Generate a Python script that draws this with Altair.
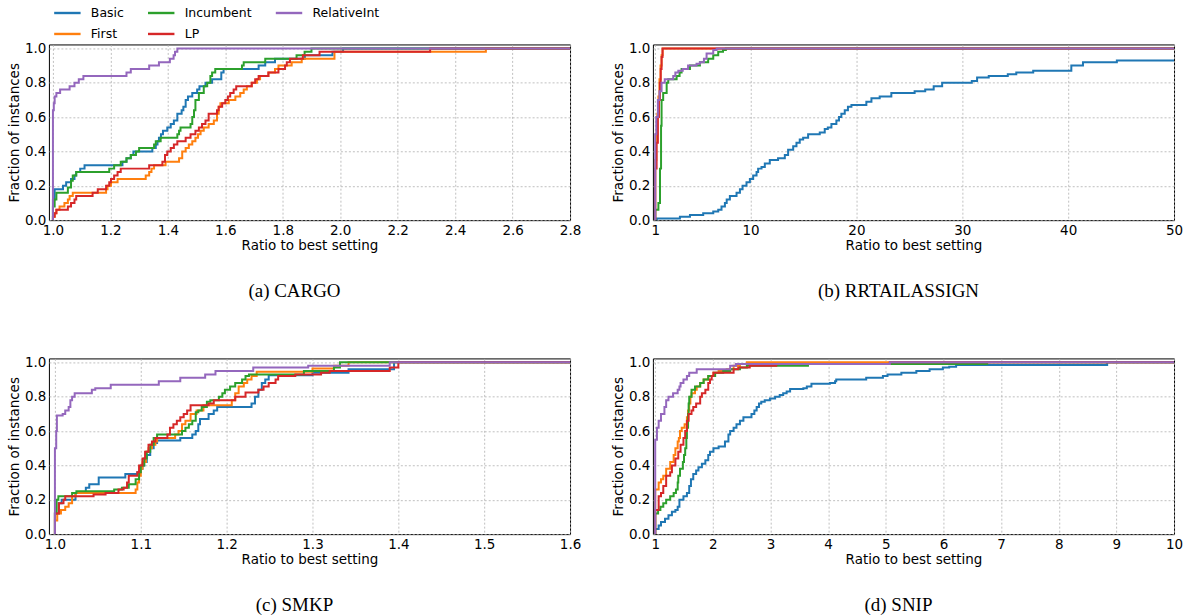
import altair as alt
import pandas as pd

# ---------------- data ----------------
SERIES = ["Basic", "First", "Incumbent", "LP", "RelativeInt"]
LEGEND_ORDER = ["Basic", "Incumbent", "RelativeInt", "First", "LP"]
LEGEND_COLORS = ["#1f77b4", "#2ca02c", "#9467bd", "#ff7f0e", "#d62728"]

# (a) Cargo
CARGO_BASIC = [(1.0, 0), (1.0, 0.12), (1.006, 0.18), (1.035, 0.20), (1.046, 0.22), (1.063, 0.24), (1.075, 0.26),
               (1.081, 0.28), (1.095, 0.30), (1.110, 0.32), (1.242, 0.34), (1.256, 0.36), (1.271, 0.38), (1.280, 0.40),
               (1.346, 0.42), (1.358, 0.44), (1.364, 0.46), (1.369, 0.48), (1.376, 0.50), (1.383, 0.52), (1.398, 0.54),
               (1.410, 0.56), (1.421, 0.58), (1.433, 0.62), (1.448, 0.64), (1.454, 0.66), (1.462, 0.70), (1.470, 0.72),
               (1.485, 0.74), (1.502, 0.76), (1.510, 0.78), (1.531, 0.80), (1.554, 0.82), (1.586, 0.86), (1.594, 0.88),
               (1.716, 0.90), (1.739, 0.92), (1.773, 0.94), (1.877, 0.96), (1.973, 0.98), (2.010, 1.0), (2.8, 1.0)]
CARGO_FIRST = [(1.0, 0), (1.0, 0.02), (1.006, 0.04), (1.012, 0.06), (1.023, 0.08), (1.04, 0.10), (1.052, 0.12),
               (1.058, 0.14), (1.069, 0.16), (1.185, 0.18), (1.19, 0.20), (1.202, 0.22), (1.225, 0.24), (1.323, 0.26),
               (1.335, 0.28), (1.343, 0.30), (1.352, 0.32), (1.392, 0.34), (1.439, 0.36), (1.45, 0.40), (1.462, 0.42),
               (1.473, 0.44), (1.485, 0.46), (1.496, 0.48), (1.505, 0.50), (1.514, 0.52), (1.525, 0.54), (1.542, 0.56),
               (1.56, 0.58), (1.571, 0.62), (1.577, 0.66), (1.583, 0.68), (1.612, 0.70), (1.635, 0.72), (1.652, 0.74),
               (1.664, 0.76), (1.675, 0.78), (1.692, 0.80), (1.71, 0.82), (1.721, 0.84), (1.75, 0.86), (1.773, 0.88),
               (1.785, 0.90), (1.831, 0.92), (1.866, 0.94), (1.98, 0.98), (2.507, 1.0), (2.8, 1.0)]
CARGO_INCUMBENT = [(1.0, 0), (1.0, 0.08), (1.006, 0.12), (1.012, 0.16), (1.052, 0.19), (1.063, 0.23), (1.069, 0.26),
                   (1.081, 0.28), (1.196, 0.30), (1.213, 0.32), (1.236, 0.34), (1.256, 0.36), (1.271, 0.38),
                   (1.289, 0.40), (1.30, 0.42), (1.352, 0.44), (1.358, 0.46), (1.375, 0.48), (1.433, 0.50),
                   (1.439, 0.52), (1.444, 0.54), (1.479, 0.56), (1.485, 0.60), (1.491, 0.64), (1.496, 0.70),
                   (1.508, 0.74), (1.525, 0.78), (1.537, 0.80), (1.548, 0.84), (1.554, 0.86), (1.565, 0.88),
                   (1.658, 0.90), (1.664, 0.92), (1.739, 0.94), (1.848, 0.96), (1.876, 0.98), (1.90, 1.0), (2.8, 1.0)]
CARGO_LP = [(1.0, 0), (1.0, 0.02), (1.006, 0.04), (1.012, 0.06), (1.052, 0.08), (1.063, 0.10), (1.075, 0.12),
            (1.081, 0.14), (1.138, 0.16), (1.156, 0.18), (1.185, 0.20), (1.196, 0.22), (1.202, 0.24), (1.213, 0.26),
            (1.225, 0.28), (1.236, 0.30), (1.335, 0.32), (1.381, 0.34), (1.39, 0.38), (1.398, 0.40), (1.41, 0.42),
            (1.421, 0.44), (1.433, 0.46), (1.462, 0.48), (1.479, 0.50), (1.496, 0.52), (1.508, 0.54), (1.519, 0.56),
            (1.531, 0.58), (1.542, 0.62), (1.571, 0.64), (1.577, 0.66), (1.589, 0.68), (1.60, 0.70), (1.609, 0.72),
            (1.617, 0.74), (1.629, 0.76), (1.638, 0.78), (1.692, 0.80), (1.704, 0.82), (1.716, 0.84), (1.75, 0.86),
            (1.785, 0.88), (1.808, 0.90), (1.814, 0.92), (1.825, 0.94), (1.87, 0.96), (1.928, 0.98), (2.313, 1.0),
            (2.8, 1.0)]
CARGO_RELINT = [(1.0, 0), (1.0, 0.64), (1.003, 0.68), (1.006, 0.72), (1.012, 0.74), (1.025, 0.76), (1.058, 0.78),
                (1.075, 0.80), (1.09, 0.82), (1.106, 0.84), (1.256, 0.86), (1.271, 0.88), (1.335, 0.90), (1.369, 0.92),
                (1.407, 0.94), (1.42, 0.96), (1.425, 0.98), (1.433, 1.0), (2.8, 1.0)]

# (b) RRTailAssign
RRT_BASIC = [(1.0, 0), (1.15, 0.01), (3.33, 0.02), (4.28, 0.03), (5.53, 0.04), (6.48, 0.05), (6.95, 0.06),
             (7.26, 0.08), (7.58, 0.10), (7.75, 0.12), (8.05, 0.14), (8.68, 0.16), (9.0, 0.18), (9.25, 0.20),
             (9.62, 0.22), (9.94, 0.24), (10.25, 0.26), (10.57, 0.28), (10.72, 0.30), (11.04, 0.31), (11.35, 0.33),
             (11.82, 0.35), (12.6, 0.36), (13.24, 0.38), (13.55, 0.41), (14.03, 0.43), (14.34, 0.45), (14.65, 0.47),
             (14.97, 0.48), (15.44, 0.50), (16.54, 0.51), (17.01, 0.53), (17.3, 0.54), (17.64, 0.56), (18.11, 0.58),
             (18.36, 0.60), (18.58, 0.62), (18.9, 0.64), (19.2, 0.66), (19.53, 0.67), (20.94, 0.69), (21.42, 0.71),
             (22.2, 0.72), (23.3, 0.74), (25.5, 0.75), (26.5, 0.76), (27.3, 0.78), (28.1, 0.80), (30.9, 0.81),
             (31.4, 0.83), (32.5, 0.84), (34.3, 0.85), (35.1, 0.86), (36.7, 0.87), (40.3, 0.90), (41.4, 0.92),
             (44.6, 0.93), (50.0, 0.93)]
RRT_FIRST = [(1.0, 0), (1.0, 0.35), (1.1, 0.5), (1.2, 0.62), (1.3, 0.72), (1.4, 0.82), (1.5, 0.9), (1.6, 0.96),
             (1.7, 1.0), (50.0, 1.0)]
RRT_INCUMBENT = [(1.0, 0), (1.0, 0.06), (1.3, 0.10), (1.45, 0.3), (1.55, 0.55), (1.6, 0.70), (1.75, 0.74),
                 (2.08, 0.80), (2.23, 0.82), (3.02, 0.84), (3.3, 0.86), (3.49, 0.88), (4.28, 0.90), (5.22, 0.92),
                 (6.0, 0.94), (6.48, 0.96), (6.95, 0.98), (7.4, 0.99), (7.67, 1.0), (50.0, 1.0)]
RRT_LP = [(1.0, 0), (1.0, 0.30), (1.13, 0.45), (1.25, 0.6), (1.35, 0.7), (1.44, 0.8), (1.52, 0.88), (1.6, 0.95),
          (1.69, 1.0), (50.0, 1.0)]
RRT_RELINT = [(1.0, 0), (1.0, 0.5), (1.1, 0.6), (1.25, 0.7), (1.4, 0.75), (1.6, 0.80), (1.9, 0.82), (2.7, 0.84),
              (2.9, 0.86), (3.18, 0.87), (3.6, 0.88), (4.1, 0.90), (4.9, 0.91), (5.22, 0.92), (5.6, 0.94),
              (5.85, 0.97), (6.48, 0.99), (6.8, 1.0), (50.0, 1.0)]

# (c) Smkp
SMKP_BASIC = [(1.0, 0), (1.0, 0.12), (1.0046, 0.18), (1.0078, 0.20), (1.024, 0.24), (1.036, 0.27), (1.04, 0.29),
              (1.051, 0.33), (1.082, 0.35), (1.096, 0.36), (1.1, 0.38), (1.102, 0.40), (1.104, 0.42), (1.107, 0.46),
              (1.111, 0.50), (1.115, 0.53), (1.119, 0.545), (1.146, 0.56), (1.16, 0.58), (1.164, 0.60),
              (1.167, 0.64), (1.169, 0.67), (1.179, 0.70), (1.185, 0.72), (1.189, 0.74), (1.229, 0.76),
              (1.233, 0.80), (1.237, 0.84), (1.241, 0.88), (1.245, 0.90), (1.249, 0.925), (1.30, 0.94),
              (1.342, 0.96), (1.395, 1.0), (1.6, 1.0)]
SMKP_FIRST = [(1.0, 0), (1.0, 0.08), (1.0027, 0.12), (1.007, 0.14), (1.012, 0.16), (1.016, 0.18), (1.02, 0.22),
              (1.024, 0.24), (1.094, 0.26), (1.096, 0.30), (1.098, 0.34), (1.1, 0.38), (1.102, 0.42), (1.106, 0.48),
              (1.109, 0.50), (1.113, 0.52), (1.117, 0.54), (1.119, 0.56), (1.14, 0.58), (1.144, 0.60),
              (1.148, 0.64), (1.152, 0.66), (1.158, 0.70), (1.165, 0.72), (1.173, 0.75), (1.206, 0.78),
              (1.21, 0.82), (1.214, 0.86), (1.22, 0.88), (1.224, 0.90), (1.229, 0.92), (1.235, 0.945),
              (1.30, 0.965), (1.325, 0.98), (1.342, 1.0), (1.6, 1.0)]
SMKP_INCUMBENT = [(1.0, 0), (1.0, 0.12), (1.002, 0.20), (1.004, 0.22), (1.02, 0.24), (1.025, 0.25), (1.069, 0.26),
                  (1.078, 0.27), (1.086, 0.29), (1.094, 0.32), (1.098, 0.36), (1.1, 0.40), (1.104, 0.44),
                  (1.107, 0.48), (1.111, 0.52), (1.115, 0.56), (1.119, 0.58), (1.148, 0.60), (1.152, 0.62),
                  (1.156, 0.64), (1.16, 0.66), (1.164, 0.71), (1.167, 0.72), (1.171, 0.74), (1.177, 0.77),
                  (1.181, 0.78), (1.191, 0.80), (1.195, 0.82), (1.198, 0.84), (1.204, 0.86), (1.21, 0.88),
                  (1.218, 0.90), (1.222, 0.92), (1.226, 0.93), (1.29, 0.95), (1.325, 0.97), (1.332, 1.0), (1.6, 1.0)]
SMKP_LP = [(1.0, 0), (1.0, 0.12), (1.0046, 0.18), (1.01, 0.20), (1.012, 0.22), (1.045, 0.23), (1.059, 0.24),
           (1.074, 0.26), (1.08, 0.27), (1.084, 0.30), (1.086, 0.34), (1.096, 0.36), (1.098, 0.40), (1.102, 0.44),
           (1.105, 0.48), (1.109, 0.52), (1.113, 0.54), (1.117, 0.56), (1.131, 0.58), (1.134, 0.62), (1.138, 0.64),
           (1.142, 0.66), (1.146, 0.68), (1.15, 0.70), (1.154, 0.72), (1.158, 0.75), (1.179, 0.76), (1.185, 0.78),
           (1.21, 0.80), (1.222, 0.825), (1.237, 0.84), (1.243, 0.86), (1.249, 0.88), (1.257, 0.90), (1.26, 0.92),
           (1.28, 0.93), (1.31, 0.94), (1.32, 0.95), (1.39, 0.97), (1.40, 1.0), (1.6, 1.0)]
SMKP_RELINT = [(1.0, 0), (1.0, 0.5), (1.0015, 0.6), (1.0023, 0.69), (1.009, 0.70), (1.012, 0.72), (1.016, 0.74),
               (1.018, 0.78), (1.02, 0.80), (1.023, 0.82), (1.043, 0.84), (1.047, 0.85), (1.065, 0.87),
               (1.121, 0.89), (1.146, 0.91), (1.175, 0.93), (1.187, 0.95), (1.231, 0.97), (1.295, 0.98),
               (1.39, 1.0), (1.6, 1.0)]

# (d) Snip
SNIP_BASIC = [(1.0, 0), (1.0, 0.03), (1.06, 0.05), (1.1, 0.07), (1.17, 0.09), (1.23, 0.11), (1.29, 0.13),
              (1.35, 0.14), (1.39, 0.16), (1.42, 0.20), (1.49, 0.22), (1.55, 0.24), (1.59, 0.28), (1.62, 0.32),
              (1.66, 0.35), (1.71, 0.37), (1.75, 0.39), (1.81, 0.41), (1.87, 0.43), (1.92, 0.46), (1.95, 0.48),
              (2.01, 0.50), (2.1, 0.51), (2.21, 0.54), (2.27, 0.58), (2.3, 0.60), (2.36, 0.62), (2.41, 0.64),
              (2.47, 0.66), (2.53, 0.68), (2.67, 0.70), (2.72, 0.72), (2.76, 0.74), (2.8, 0.76), (2.84, 0.77),
              (2.9, 0.78), (2.99, 0.79), (3.08, 0.80), (3.16, 0.81), (3.22, 0.82), (3.28, 0.83), (3.34, 0.845),
              (3.57, 0.85), (3.63, 0.86), (3.71, 0.875), (4.03, 0.88), (4.12, 0.89), (4.14, 0.90), (4.66, 0.91),
              (4.95, 0.92), (5.03, 0.93), (5.27, 0.94), (5.53, 0.95), (5.76, 0.96), (5.99, 0.97), (6.1, 0.975),
              (6.22, 0.985), (8.84, 1.0), (10.0, 1.0)]
SNIP_FIRST = [(1.0, 0), (1.0, 0.26), (1.06, 0.30), (1.1, 0.32), (1.14, 0.34), (1.19, 0.38), (1.26, 0.42),
              (1.32, 0.46), (1.35, 0.50), (1.39, 0.54), (1.41, 0.56), (1.43, 0.60), (1.46, 0.62), (1.51, 0.64),
              (1.55, 0.68), (1.57, 0.72), (1.59, 0.76), (1.61, 0.80), (1.63, 0.82), (1.69, 0.84), (1.72, 0.86),
              (1.78, 0.88), (1.84, 0.90), (1.92, 0.92), (2.01, 0.94), (2.1, 0.95), (2.24, 0.96), (2.36, 0.98),
              (2.47, 0.99), (2.59, 1.0), (10.0, 1.0)]
SNIP_INCUMBENT = [(1.0, 0), (1.0, 0.12), (1.05, 0.14), (1.09, 0.16), (1.14, 0.18), (1.19, 0.20), (1.26, 0.22),
                  (1.32, 0.24), (1.36, 0.26), (1.39, 0.30), (1.40, 0.34), (1.43, 0.38), (1.48, 0.42), (1.50, 0.46),
                  (1.52, 0.50), (1.54, 0.56), (1.55, 0.62), (1.57, 0.70), (1.58, 0.76), (1.59, 0.80), (1.63, 0.84),
                  (1.69, 0.86), (1.78, 0.88), (1.84, 0.90), (1.92, 0.92), (2.04, 0.94), (2.18, 0.95), (2.3, 0.96),
                  (2.47, 0.97), (2.59, 0.98), (3.65, 0.99), (6.76, 1.0), (10.0, 1.0)]
SNIP_LP = [(1.0, 0), (1.0, 0.14), (1.06, 0.22), (1.1, 0.24), (1.14, 0.28), (1.19, 0.34), (1.26, 0.36), (1.29, 0.40),
           (1.35, 0.44), (1.40, 0.48), (1.44, 0.52), (1.49, 0.56), (1.52, 0.60), (1.55, 0.66), (1.58, 0.70),
           (1.63, 0.72), (1.66, 0.74), (1.71, 0.76), (1.78, 0.80), (1.81, 0.82), (1.87, 0.84), (1.92, 0.88),
           (1.95, 0.90), (1.98, 0.92), (2.01, 0.94), (2.36, 0.96), (2.44, 0.97), (2.64, 0.98), (3.1, 0.99),
           (5.07, 1.0), (10.0, 1.0)]
SNIP_RELINT = [(1.0, 0), (1.0, 0.55), (1.03, 0.62), (1.06, 0.66), (1.1, 0.70), (1.16, 0.74), (1.19, 0.78),
               (1.23, 0.80), (1.31, 0.82), (1.39, 0.84), (1.42, 0.86), (1.44, 0.88), (1.49, 0.90), (1.55, 0.92),
               (1.59, 0.94), (1.72, 0.96), (2.3, 0.98), (2.4, 0.99), (5.07, 1.0), (10.0, 1.0)]

X_DOMAINS = {"a": [0.986, 2.8], "b": [0.78, 50], "c": [0.993, 1.6], "d": [0.96, 10]}
X_TICKS = {"a": [1.0, 1.2, 1.4, 1.6, 1.8, 2.0, 2.2, 2.4, 2.6, 2.8], "b": [1, 10, 20, 30, 40, 50],
           "c": [1.0, 1.1, 1.2, 1.3, 1.4, 1.5, 1.6], "d": [1, 2, 3, 4, 5, 6, 7, 8, 9, 10]}
X_FORMATS = {"a": ".1f", "b": "d", "c": ".1f", "d": "d"}
Y_TICKS = [0.0, 0.2, 0.4, 0.6, 0.8, 1.0]
CAPTIONS = {"a": "(a) CARGO", "b": "(b) RRTAILASSIGN", "c": "(c) SMKP", "d": "(d) SNIP"}

PANELS = {
    "a": [CARGO_BASIC, CARGO_FIRST, CARGO_INCUMBENT, CARGO_LP, CARGO_RELINT],
    "b": [RRT_BASIC, RRT_FIRST, RRT_INCUMBENT, RRT_LP, RRT_RELINT],
    "c": [SMKP_BASIC, SMKP_FIRST, SMKP_INCUMBENT, SMKP_LP, SMKP_RELINT],
    "d": [SNIP_BASIC, SNIP_FIRST, SNIP_INCUMBENT, SNIP_LP, SNIP_RELINT],
}

FONT = "DejaVu Sans"
FS = 13.5
W, H = 522, 176


def panel(key, show_legend):
    xdom = X_DOMAINS[key]
    if show_legend:
        legend = alt.Legend(
            orient="none", legendX=4, legendY=-46, direction="horizontal", columns=3, title=None,
            symbolType="stroke", symbolStrokeWidth=2.4, symbolSize=700, labelFont=FONT, labelFontSize=12.5,
            labelColor="black", columnPadding=18, rowPadding=-8, labelOffset=9, padding=0,
        )
    else:
        legend = None
    layers = []
    for name, pts in zip(SERIES, PANELS[key]):
        df = pd.DataFrame({"x": [p[0] for p in pts], "y": [p[1] for p in pts],
                           "idx": list(range(len(pts))), "series": name})
        layers.append(
            alt.Chart(df).mark_line(interpolate="step-after", strokeWidth=2, clip=True).encode(
                x=alt.X("x:Q", scale=alt.Scale(domain=xdom, nice=False, zero=False),
                        axis=alt.Axis(values=X_TICKS[key], format=X_FORMATS[key], title="Ratio to best setting",
                                      labelFlush=False, labelOverlap=False, titlePadding=2)),
                y=alt.Y("y:Q", scale=alt.Scale(domain=[0, 1.023], nice=False, zero=False),
                        axis=alt.Axis(values=Y_TICKS, format=".1f", title="Fraction of instances",
                                      labelOverlap=False, titlePadding=3)),
                color=alt.Color("series:N", scale=alt.Scale(domain=LEGEND_ORDER, range=LEGEND_COLORS),
                                legend=legend),
                order="idx:Q",
            )
        )
    return alt.layer(*layers).properties(
        width=W, height=H,
        title=alt.TitleParams(CAPTIONS[key], orient="bottom", anchor="middle", font="Liberation Serif",
                              fontSize=19, fontWeight="normal", color="black", offset=30, dx=-15),
    )


top = alt.hconcat(panel("a", True), panel("b", False), spacing=29)
bottom = alt.hconcat(panel("c", False), panel("d", False), spacing=29)
chart = alt.vconcat(top, bottom, spacing=52.5).resolve_scale(color="independent").properties(
    padding={"left": 7, "top": -2, "right": 4, "bottom": 5}, background="white"
).configure_view(stroke="black", strokeWidth=1).configure_axis(
    grid=True, gridDash=[2, 2], gridColor="#b0b0b0", gridWidth=0.8, ticks=False, domain=False,
    labelFont=FONT, labelFontSize=FS, labelColor="black", labelPadding=3,
    titleFont=FONT, titleFontSize=FS, titleFontWeight="normal", titleColor="black",
)

chart.save("out.html", embed_options={"renderer": "svg", "actions": False})
